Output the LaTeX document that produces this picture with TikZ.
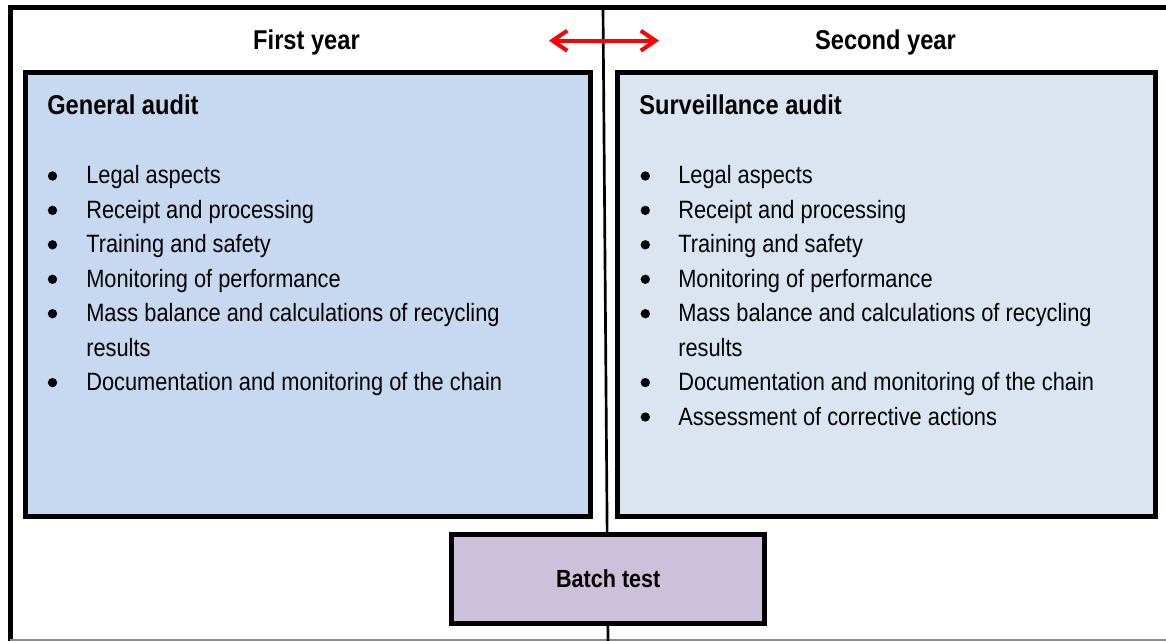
\documentclass[tikz,border=0pt]{standalone}
\usepackage{fontspec}
\setmainfont{Liberation Sans}[FakeStretch=0.87]
\usetikzlibrary{arrows.meta}
\definecolor{boxblue}{HTML}{C6D9F0}
\definecolor{boxlight}{HTML}{DBE5F1}
\definecolor{boxpurple}{HTML}{CCC0DA}
\definecolor{arrowred}{HTML}{FF0000}
\definecolor{edgegray}{HTML}{8C8C8C}
\begin{document}
\begin{tikzpicture}[x=0.75pt,y=-0.75pt,
  auditbox/.style={draw=black,line width=3.75pt,rectangle,inner sep=0pt},
  yearlabel/.style={font=\fontsize{20.4}{24}\selectfont\bfseries,inner sep=0pt,anchor=base},
  boxtitle/.style={font=\fontsize{20.4}{24}\selectfont\bfseries,inner sep=0pt,anchor=base west},
  itemtext/.style={font=\fontsize{18.8}{22}\selectfont,inner sep=0pt,anchor=base west},
  bulletdot/.style={circle,fill=black,inner sep=0pt,minimum size=7pt},
  frameline/.style={draw=black,line width=3.75pt},
  divider/.style={draw=black,line width=2pt},
  yeararrow/.style={draw=arrowred,line width=3pt,
    {Straight Barb[length=11pt,width=15pt]}-{Straight Barb[length=11pt,width=15pt]}}
]
\useasboundingbox (0,0) rectangle (1166,641);
\fill[white] (0,0) rectangle (1166,641);

% outer frame
\draw[frameline] (10,641) -- (10,7.5) -- (1166,7.5);
\draw[edgegray,line width=1.1pt] (10,640) -- (1166,640);

% central divider
\coordinate (divtop) at (603,7.5);
\coordinate (divbot) at (608,641);
\draw[divider] (divtop) -- (divbot);

% boxes
\node[auditbox,fill=boxblue,minimum width=423.75pt,minimum height=332.5pt] (general) at (308,294.4) {};
\node[auditbox,fill=boxlight,minimum width=403.1pt,minimum height=332.5pt] (surveil) at (886.25,294.4) {};
\node[auditbox,fill=boxpurple,minimum width=235.1pt,minimum height=66.75pt,
      font=\fontsize{18.6}{22}\selectfont\bfseries] (batch) at (608.25,579) {Batch test};

% year labels and arrow
\node[yearlabel] (firstyear) at (306.5,50) {First year};
\node[yearlabel] (secondyear) at (885.5,50) {Second year};
\coordinate (arrL) at (549,40.7);
\coordinate (arrR) at (659,40.7);
\draw[yeararrow] (arrL) -- (arrR);

% titles
\node[boxtitle] (gentitle) at (47,114.5) {General audit};
\node[boxtitle] (survtitle) at (639,114.5) {Surveillance audit};

% left items
\foreach \i/\yy/\txt in {1/184/Legal aspects,2/218.4/Receipt and processing,3/252.8/Training and safety,4/287.3/Monitoring of performance,5/321.7/Mass balance and calculations of recycling,6/390.6/Documentation and monitoring of the chain}{
  \node[bulletdot] (gb\i) at (52.5,\yy-8) {};
  \node[itemtext] (gt\i) at (86,\yy) {\txt};
}
\node[itemtext] (gtcont) at (86,356.2) {results};

% right items
\foreach \i/\yy/\txt in {1/184/Legal aspects,2/218.4/Receipt and processing,3/252.8/Training and safety,4/287.3/Monitoring of performance,5/321.7/Mass balance and calculations of recycling,6/390.6/Documentation and monitoring of the chain,7/425/Assessment of corrective actions}{
  \node[bulletdot] (sb\i) at (645.3,\yy-8) {};
  \node[itemtext] (st\i) at (678,\yy) {\txt};
}
\node[itemtext] (stcont) at (678,356.2) {results};
\end{tikzpicture}
\end{document}
